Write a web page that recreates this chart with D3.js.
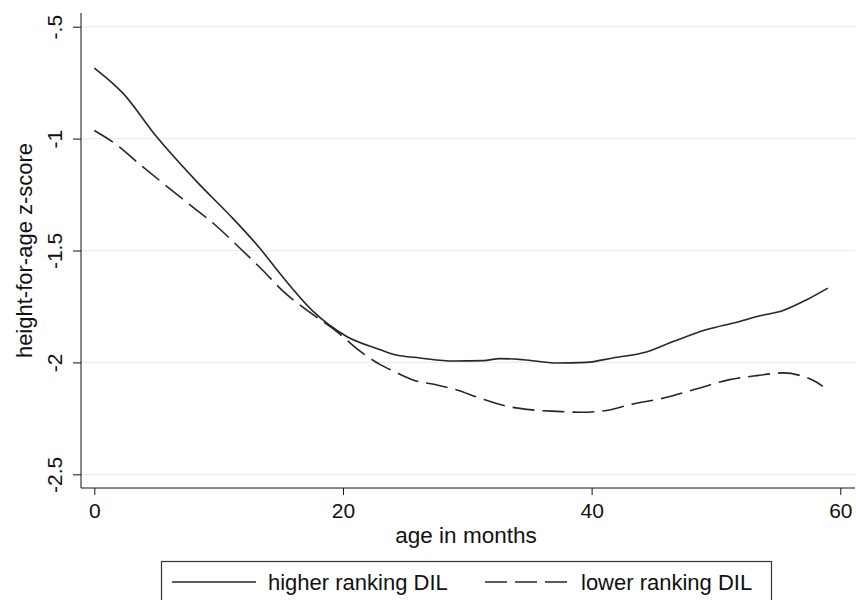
<!DOCTYPE html>
<html>
<head>
<meta charset="utf-8">
<script src="https://cdn.jsdelivr.net/npm/d3@7"></script>
<style>
  html, body { margin: 0; padding: 0; background: #fff; }
  svg { display: block; font-family: "Liberation Sans", Arial, sans-serif; }
</style>
</head>
<body>
<div id="app"></div>
<script>
// age (months) and mean height-for-age z-score
const higherAge = [0, 2.3, 5, 8.2, 11.2, 13.3, 14.9, 17.6, 20.3, 23, 24.2, 26.2, 28.9, 31.3, 32.6, 34.5, 37.2, 39.6, 41.7, 44.4, 46.6, 49.2, 51.9, 53.3, 55.4, 57.3, 59];
const higherZ = [-0.685, -0.797, -0.991, -1.19, -1.36, -1.489, -1.601, -1.772, -1.884, -1.943, -1.966, -1.98, -1.994, -1.992, -1.983, -1.988, -2.003, -2.0, -1.98, -1.954, -1.906, -1.854, -1.817, -1.795, -1.768, -1.72, -1.668];

const lowerAge = [0, 1.7, 3.7, 5.7, 7.7, 9.7, 11.7, 13.5, 15.2, 17.4, 19.5, 21.4, 23, 24.1, 25.7, 27.5, 29.1, 31, 33.2, 35, 37.2, 39.1, 41.2, 43.1, 45.8, 48.4, 51.1, 53.3, 55.4, 56.8, 57.8, 58.6];
const lowerZ = [-0.964, -1.024, -1.117, -1.207, -1.296, -1.385, -1.489, -1.586, -1.683, -1.779, -1.862, -1.951, -2.01, -2.04, -2.08, -2.1, -2.122, -2.159, -2.196, -2.211, -2.219, -2.223, -2.215, -2.189, -2.159, -2.119, -2.077, -2.059, -2.047, -2.059, -2.08, -2.107];

const seriesNames = ["higher ranking DIL", "lower ranking DIL"];
const xTicks = [0, 20, 40, 60];
const yTicks = [-0.5, -1, -1.5, -2, -2.5];
const yTickLabels = ["-.5", "-1", "-1.5", "-2", "-2.5"];

const width = 856;
const height = 600;

const plot = { left: 81, right: 855, top: 13, bottom: 488 };

const x = d3.scaleLinear().domain([0, 60]).range([94.3, 840.3]);
const y = d3.scaleLinear().domain([-0.5, -2.5]).range([26.7, 474.3]);

const svg = d3.select("#app").append("svg")
    .attr("width", width)
    .attr("height", height);

// gridlines
svg.append("g")
  .selectAll("line")
  .data(yTicks)
  .enter().append("line")
    .attr("x1", plot.left)
    .attr("x2", plot.right)
    .attr("y1", d => y(d))
    .attr("y2", d => y(d))
    .attr("stroke", "#e6eef1")
    .attr("stroke-width", 1.2);

// y axis
const yAxis = svg.append("g")
    .attr("transform", `translate(${plot.left},0)`)
    .call(d3.axisLeft(y).tickValues(yTicks).tickSize(8).tickFormat((d, i) => yTickLabels[i]));
yAxis.select(".domain").attr("d", `M0,${plot.top}V${plot.bottom}`).attr("stroke", "#111");
yAxis.selectAll(".tick line").attr("stroke", "#111");
yAxis.selectAll(".tick text")
    .attr("x", null).attr("dy", null)
    .attr("transform", "translate(-19,0) rotate(-90)")
    .attr("text-anchor", "middle")
    .attr("fill", "#111")
    .style("font-size", "21px");

// x axis
const xAxis = svg.append("g")
    .attr("transform", `translate(0,${plot.bottom})`)
    .call(d3.axisBottom(x).tickValues(xTicks).tickSize(7));
xAxis.select(".domain").attr("d", `M${plot.left},0H${plot.right}`).attr("stroke", "#111");
xAxis.selectAll(".tick line").attr("stroke", "#111");
xAxis.selectAll(".tick text")
    .attr("y", 30).attr("dy", null)
    .attr("fill", "#111")
    .style("font-size", "21px");

// axis titles
svg.append("text")
    .attr("transform", `translate(32,${(plot.top + plot.bottom) / 2}) rotate(-90)`)
    .attr("text-anchor", "middle")
    .attr("fill", "#111")
    .style("font-size", "22px")
    .text("height-for-age z-score");

svg.append("text")
    .attr("x", (plot.left + plot.right) / 2 - 2)
    .attr("y", 543)
    .attr("text-anchor", "middle")
    .attr("fill", "#111")
    .style("font-size", "22.5px")
    .text("age in months");

// lines
const line = d3.line()
    .x(d => x(d[0]))
    .y(d => y(d[1]))
    .curve(d3.curveMonotoneX);

const series = [
    { name: seriesNames[0], points: d3.zip(higherAge, higherZ), dash: null },
    { name: seriesNames[1], points: d3.zip(lowerAge, lowerZ), dash: "22 8" },
];

svg.append("g")
  .selectAll("path")
  .data(series)
  .enter().append("path")
    .attr("d", d => line(d.points))
    .attr("fill", "none")
    .attr("stroke", "#262626")
    .attr("stroke-width", 1.6)
    .attr("stroke-dasharray", d => d.dash);

// legend
const legend = svg.append("g");
legend.append("rect")
    .attr("x", 161.5)
    .attr("y", 561.5)
    .attr("width", 610)
    .attr("height", 60)
    .attr("fill", "none")
    .attr("stroke", "#333")
    .attr("stroke-width", 1.2);

const legendX = [172, 485];
const item = legend.selectAll("g.item")
    .data(series)
    .enter().append("g")
    .attr("class", "item")
    .attr("transform", (d, i) => `translate(${legendX[i]},0)`);
item.append("line")
    .attr("x1", 0).attr("x2", 84)
    .attr("y1", 582).attr("y2", 582)
    .attr("stroke", "#262626")
    .attr("stroke-width", 1.6)
    .attr("stroke-dasharray", d => d.dash);
item.append("text")
    .attr("x", 96)
    .attr("y", 590)
    .attr("fill", "#111")
    .style("font-size", "22px")
    .text(d => d.name);
</script>
</body>
</html>
